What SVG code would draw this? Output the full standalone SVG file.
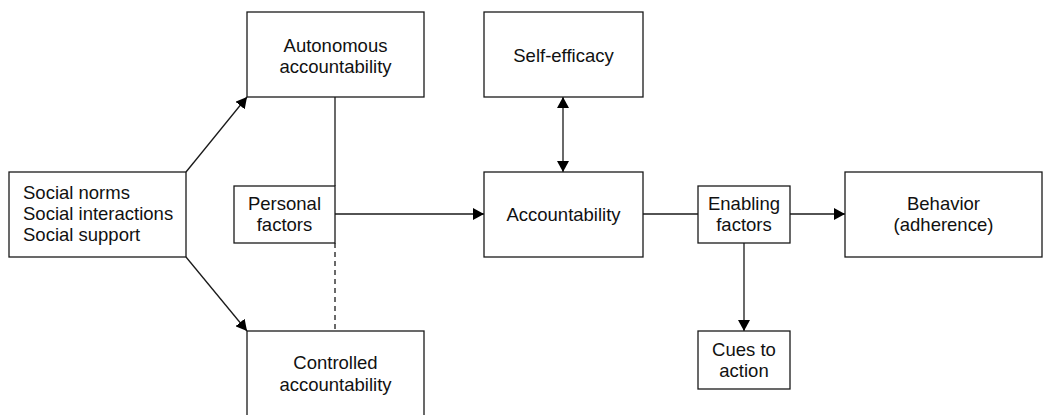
<svg xmlns="http://www.w3.org/2000/svg" width="1050" height="415" viewBox="0 0 1050 415">
<style>
.box{fill:#fff;stroke:#1a1a1a;stroke-width:1.3}
.t{font-family:"Liberation Sans",Arial,sans-serif;font-size:18.5px;fill:#111;text-anchor:middle}
.tl{font-family:"Liberation Sans",Arial,sans-serif;font-size:18.5px;fill:#111;text-anchor:start}
.c{stroke:#1a1a1a;stroke-width:1.3;fill:none}
</style>
<defs>
<marker id="ah" viewBox="0 0 11 12" refX="11" refY="6" markerWidth="11" markerHeight="12" markerUnits="userSpaceOnUse" orient="auto-start-reverse">
<path d="M0,0 L11,6 L0,12 Z" fill="#000"/>
</marker>
</defs>
<rect width="1050" height="415" fill="#fff"/>
<g id="connectors">
<line class="c" x1="186" y1="172" x2="247" y2="97" marker-end="url(#ah)"/>
<line class="c" x1="186" y1="257" x2="247" y2="331" marker-end="url(#ah)"/>
<line class="c" x1="335" y1="97" x2="335" y2="186"/>
<line class="c" x1="335" y1="243" x2="335" y2="331" stroke-dasharray="5,4"/>
<line class="c" x1="335" y1="214" x2="484" y2="214" marker-end="url(#ah)"/>
<line class="c" x1="563" y1="97" x2="563" y2="172" marker-start="url(#ah)" marker-end="url(#ah)"/>
<line class="c" x1="643" y1="214" x2="698" y2="214"/>
<line class="c" x1="790" y1="214" x2="845" y2="214" marker-end="url(#ah)"/>
<line class="c" x1="744" y1="243" x2="744" y2="331" marker-end="url(#ah)"/>
</g>
<g id="social">
<rect class="box" x="9" y="172" width="177" height="85"/>
<text class="tl" x="23" y="199">Social norms</text>
<text class="tl" x="23" y="220">Social interactions</text>
<text class="tl" x="23" y="241">Social support</text>
</g>
<g id="autonomous">
<rect class="box" x="247" y="12" width="177" height="85"/>
<text class="t" x="335.5" y="52">Autonomous</text>
<text class="t" x="335.5" y="73">accountability</text>
</g>
<g id="personal">
<rect class="box" x="234" y="186" width="101" height="57"/>
<text class="t" x="284.5" y="210">Personal</text>
<text class="t" x="284.5" y="231">factors</text>
</g>
<g id="controlled">
<rect class="box" x="247" y="331" width="177" height="95"/>
<text class="t" x="335.5" y="369">Controlled</text>
<text class="t" x="335.5" y="391">accountability</text>
</g>
<g id="selfefficacy">
<rect class="box" x="484" y="12" width="159" height="85"/>
<text class="t" x="563.5" y="62">Self-efficacy</text>
</g>
<g id="accountability">
<rect class="box" x="484" y="172" width="159" height="85"/>
<text class="t" x="563.5" y="221">Accountability</text>
</g>
<g id="enabling">
<rect class="box" x="698" y="186" width="92" height="57"/>
<text class="t" x="744" y="210">Enabling</text>
<text class="t" x="744" y="231">factors</text>
</g>
<g id="behavior">
<rect class="box" x="845" y="172" width="197" height="85"/>
<text class="t" x="943.5" y="210">Behavior</text>
<text class="t" x="943.5" y="231">(adherence)</text>
</g>
<g id="cues">
<rect class="box" x="698" y="331" width="92" height="58"/>
<text class="t" x="744" y="356">Cues to</text>
<text class="t" x="744" y="377">action</text>
</g>
</svg>
